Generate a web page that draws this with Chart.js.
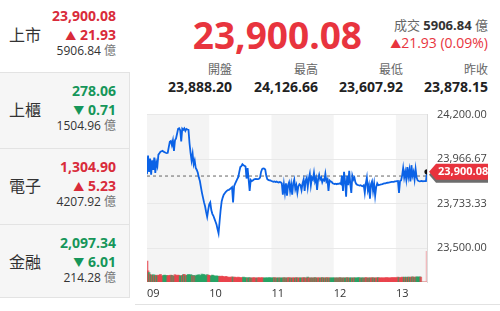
<!DOCTYPE html>
<html><head><meta charset="utf-8">
<script src="https://cdn.jsdelivr.net/npm/chart.js@4"></script>
<style>
html,body{margin:0;padding:0;width:500px;height:311px;overflow:hidden;background:#fff;font-family:"Open Sans","Noto Sans CJK TC",sans-serif;}
.abs{position:absolute;white-space:nowrap;}
.sec{position:absolute;left:0;width:130px;box-sizing:border-box;}
.r{text-align:right;}
</style></head><body>
<div id="left"></div>
<div id="head"></div>
<div class="abs" style="left:135px;top:304px;width:365px;height:1px;background:#e2e2e2"></div>
<div class="abs" style="left:135px;top:98px;width:365px;height:210px;"><canvas id="c" width="365" height="210"></canvas></div>
<script>
// ---- data ----
const markets = ['上市','上櫃','電子','金融'];
const marketValues = ['23,900.08','278.06','1,304.90','2,097.34'];
const marketChanges = ['21.93','0.71','5.23','6.01'];
const marketDirections = ['up','down','up','down'];
const marketTurnover = ['5906.84','1504.96','4207.92','214.28'];

const lastPrice = 23900.08;
const lastPriceText = '23,900.08';
const turnoverText = '5906.84';
const changeText = '21.93 (0.09%)';
const statLabels = ['開盤','最高','最低','昨收'];
const statValues = ['23,888.20','24,126.66','23,607.92','23,878.15'];
const prevClose = 23878.15;

const hourTicks = [0,60,120,180,240];
const hourLabels = ['09','10','11','12','13'];
const priceTicks = [24200,23966.67,23733.33,23500];

// minutes since 09:00 (0..270)
const minutes = [];
for (let i = 0; i <= 270; i++) minutes.push(i);

const prices = [
23888,23985,23900,23970,23885,23960,23910,23975,23895,23950,
23930,23990,23998,24005,24008,24010,24006,24003,24000,23998,
24000,24030,24058,24062,24040,24065,24010,24066,24075,24100,
24125,24128,24118,24060,24126,24120,24128,24115,24125,24122,
24120,24050,24000,23960,23995,23940,23960,23920,23910,23895,
23870,23852,23820,23790,23765,23740,23720,23690,23665,23700,
23730,23740,23700,23680,23670,23655,23640,23625,23600,23578,
23640,23700,23745,23765,23780,23788,23795,23800,23805,23806,
23810,23815,23820,23740,23825,23838,23850,23862,23872,23900,
23925,23930,23940,23935,23932,23928,23865,23920,23860,23800,
23858,23852,23855,23860,23862,23863,23862,23862,23864,23870,
23900,23915,23918,23917,23912,23880,23862,23858,23856,23855,
23852,23850,23848,23850,23847,23849,23846,23844,23847,23845,
23840,23780,23835,23790,23840,23775,23830,23845,23800,23835,
23780,23840,23860,23810,23830,23790,23825,23835,23830,23805,
23840,23860,23800,23855,23870,23820,23865,23890,23830,23870,
23860,23895,23850,23868,23805,23862,23885,23860,23870,23845,
23860,23855,23890,23850,23860,23800,23855,23850,23848,23840,
23838,23836,23838,23835,23838,23837,23840,23836,23880,23800,
23900,23850,23770,23880,23830,23905,23840,23790,23880,23860,
23870,23845,23835,23832,23830,23828,23830,23826,23825,23830,
23790,23840,23870,23805,23830,23760,23835,23850,23800,23838,
23775,23820,23840,23830,23832,23833,23835,23836,23838,23840,
23840,23842,23843,23844,23845,23846,23847,23848,23848,23850,
23850,23851,23852,23790,23852,23855,23880,23920,23870,23900,
23860,23925,23875,23910,23850,23935,23880,23900,23860,23915,
23870,23855,23852,23850,23851,23852,23850,23851,23851,23851,
23900.08
];

const volumes = [
60,32,27,22,20,19,21,18,20,19,
18,20,19,22,18,17,19,20,18,19,
17,19,18,20,19,18,17,21,19,18,
20,19,18,17,19,21,22,18,19,20,
22,19,21,20,18,19,17,18,20,19,
21,18,19,23,20,22,19,18,21,20,
19,18,17,20,19,16,17,18,16,17,
16,15,17,16,15,14,16,15,14,13,
14,13,15,14,13,14,13,12,14,13,
13,12,13,14,12,13,12,11,13,12,
12,11,12,13,11,12,11,12,13,11,
12,13,11,12,11,12,12,11,13,12,
11,12,12,13,11,12,11,12,12,11,
12,11,13,12,11,12,12,13,11,12,
11,12,12,11,13,12,11,12,12,11,
12,13,12,11,12,14,12,11,12,12,
11,12,13,12,11,12,12,11,12,13,
12,11,12,12,13,11,12,12,11,12,
12,11,12,12,11,12,13,12,11,12,
12,11,12,13,12,11,12,12,11,12,
12,12,11,12,13,12,11,12,12,11,
12,13,12,11,12,12,11,13,12,12,
11,12,12,13,12,11,12,12,11,12,
12,13,12,12,11,12,13,12,13,12,
13,12,14,13,12,13,14,13,14,13,
14,13,14,14,13,14,15,14,13,14,
15,14,14,15,14,0,0,0,0,0,
88
];

// ---- header / left panel (HTML text) ----
const RED='#d92b3a', RED2='#e8343e', GREEN='#16965a';
(function(){
  const L = document.getElementById('left');
  const tops=[0,73,149,225], hs=[73,76,76,73];
  let html='';
  for(let i=0;i<4;i++){
    const t=tops[i];
    const bg = i===0?'#fff':'#f6f6f6';
    const br = i===0?'none':'1px solid #e3e3e3';
    html += `<div class="sec" style="top:${t}px;height:${hs[i]}px;background:${bg};border-right:${br};border-bottom:1px solid #e3e3e3"></div>`;
    const c = tops[i] + (i===0?35:37);
    const col = marketDirections[i]==='up'?RED:GREEN;
    const tri = marketDirections[i]==='up'?'▲':'▼';
    html += `<div class="abs" style="left:9px;top:${c-11}px;line-height:22px;font-size:16px;color:#333">${markets[i]}</div>`;
    html += `<div class="abs r" style="left:0;width:116px;top:${c-28}px;line-height:18px;font-size:14px;font-weight:700;color:${col}">${marketValues[i]}</div>`;
    html += `<div class="abs r" style="left:0;width:116px;top:${c-9}px;line-height:18px;font-size:14px;font-weight:700;color:${col}"><span style="font-size:11px">${tri}</span> ${marketChanges[i]}</div>`;
    html += `<div class="abs r" style="left:0;width:116px;top:${c+8}px;line-height:16px;font-size:12px;color:#333">${marketTurnover[i]} <span style="color:#777">億</span></div>`;
  }
  L.innerHTML = html;
  const H = document.getElementById('head');
  let h='';
  h += `<div class="abs r" style="left:140px;width:222px;top:13px;line-height:44px;font-size:37px;font-weight:700;color:${RED2};letter-spacing:0px">${lastPriceText}</div>`;
  h += `<div class="abs r" style="left:330px;width:158px;top:16px;line-height:18px;font-size:13px;color:#333"><span style="color:#666">成交</span> <b>${turnoverText}</b> <span style="color:#666">億</span></div>`;
  h += `<div class="abs r" style="left:330px;width:158px;top:34px;line-height:18px;font-size:14px;color:${RED2}"><span style="font-size:11px">▲</span>${changeText}</div>`;
  const rights=[232,318,403,488];
  for(let i=0;i<4;i++){
    h += `<div class="abs r" style="left:${rights[i]-80}px;width:80px;top:62px;line-height:16px;font-size:12px;color:#666">${statLabels[i]}</div>`;
    h += `<div class="abs r" style="left:${rights[i]-85}px;width:85px;top:78px;line-height:18px;font-size:14px;font-weight:700;color:#222">${statValues[i]}</div>`;
  }
  H.innerHTML = h;
})();

// ---- chart ----
const priceData = minutes.map((m,i)=>({x:m,y:prices[i]}));
const volData = minutes.map((m,i)=>({x:m,y:volumes[i]}));
const volColors = minutes.map((m,i)=>{
  if(i===minutes.length-1) return 'rgba(232,80,90,0.35)';
  const up = i===0 ? true : prices[i]>=prices[i-1];
  return up ? 'rgba(232,60,70,0.75)' : 'rgba(30,160,95,0.75)';
});

const bands = {
  id:'bands',
  beforeDraw(chart){
    const {ctx, chartArea:a, scales:{x}} = chart;
    ctx.save();
    ctx.fillStyle='#f4f4f4';
    [[0,60],[120,180],[240,270]].forEach(([s,e])=>{
      const x0=x.getPixelForValue(s), x1=x.getPixelForValue(e);
      ctx.fillRect(x0,a.top,x1-x0,a.bottom-a.top);
    });
    ctx.restore();
  }
};
const tag = {
  id:'tag',
  afterDraw(chart){
    const {ctx, scales:{x,y}} = chart;
    const px = x.getPixelForValue(270)+2, py = y.getPixelForValue(lastPrice);
    const draw=(dy,color)=>{
      ctx.beginPath();
      ctx.moveTo(px,py+dy);
      ctx.lineTo(px+7,py-8+dy);
      ctx.lineTo(px+59,py-8+dy);
      ctx.lineTo(px+59,py+8+dy);
      ctx.lineTo(px+7,py+8+dy);
      ctx.closePath();
      ctx.fillStyle=color; ctx.fill();
    };
    ctx.save();
    draw(3,'rgba(60,60,60,0.75)');
    draw(0,'#e8333d');
    ctx.fillStyle='#fff';
    ctx.font='bold 11px "Open Sans"';
    ctx.textAlign='left'; ctx.textBaseline='middle';
    ctx.fillText(lastPriceText, px+9, py+0.5);
    ctx.restore();
  }
};

new Chart(document.getElementById('c'), {
  data:{
    datasets:[
      {type:'line', data:priceData, yAxisID:'y', borderColor:'#0b62e6', borderWidth:1.8, tension:0,
       pointRadius:(c)=>c.dataIndex===minutes.length-1?2.6:0, pointBackgroundColor:'#111', pointBorderWidth:0, order:0},
      {type:'line', data:[{x:0,y:prevClose},{x:270,y:prevClose}], yAxisID:'y', borderColor:'#666', borderWidth:1,
       borderDash:[3,3], pointRadius:0, order:1},
      {type:'bar', data:volData, yAxisID:'yv', backgroundColor:volColors, barThickness:2, order:2}
    ]
  },
  options:{
    animation:false, responsive:false, devicePixelRatio:1,
    layout:{padding:{left:12,top:10,right:0,bottom:0}},
    plugins:{legend:{display:false}, tooltip:{enabled:false}},
    scales:{
      x:{type:'linear', min:0, max:270, offset:false,
         afterBuildTicks:(s)=>{s.ticks=hourTicks.map(v=>({value:v}));},
         afterFit:(s)=>{s.height=26;},
         grid:{display:false, drawTicks:false, offset:false}, border:{display:false},
         ticks:{align:'start', padding:5, maxRotation:0, color:'#333', font:{family:'Open Sans', size:11},
                callback:(v)=>hourLabels[hourTicks.indexOf(v)]}},
      y:{type:'linear', position:'right', min:23323, max:24200,
         afterBuildTicks:(s)=>{s.ticks=priceTicks.map(v=>({value:v}));},
         afterFit:(s)=>{s.width=73;},
         grid:{color:'#e8e8e8', drawTicks:false}, border:{display:true, color:'#dcdcdc'},
         ticks:{padding:10, color:'#444', font:{family:'Open Sans', size:11},
                callback:(v)=>v.toLocaleString('en-US',{minimumFractionDigits:2,maximumFractionDigits:2})}},
      yv:{type:'linear', display:false, min:0, max:480}
    }
  },
  plugins:[bands, tag]
});
</script>
</body></html>
